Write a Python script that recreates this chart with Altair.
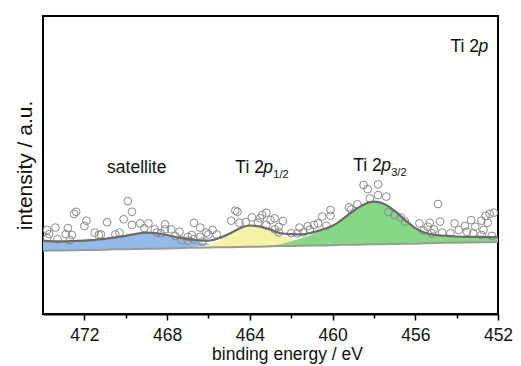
import altair as alt
import pandas as pd

# ---- data ----
energy = [474, 473.5, 473, 472.5, 472, 471.5, 471, 470.5, 470, 469.5, 469, 468.5, 468, 467.5,
          467, 466.5, 466, 465.5, 465, 464.5, 464, 463.5, 463, 462.5, 462, 461.5, 461, 460.5,
          460, 459.5, 459, 458.5, 458, 457.5, 457, 456.5, 456, 455.5, 455, 454.5, 454, 453.5,
          453, 452.5, 452]
background = [21.2, 21.3, 21.3, 21.4, 21.5, 21.5, 21.6, 21.7, 21.7, 21.8, 21.9, 21.9, 22.0, 22.1,
              22.2, 22.2, 22.3, 22.4, 22.4, 22.5, 22.6, 22.6, 22.7, 22.8, 22.8, 22.9, 23.0, 23.0,
              23.1, 23.2, 23.2, 23.3, 23.4, 23.4, 23.5, 23.6, 23.6, 23.7, 23.8, 23.9, 23.9, 24.0,
              24.1, 24.1, 24.2]
satellite = [3.4, 3.1, 3.1, 3.1, 3.1, 3.4, 3.6, 4.0, 4.5, 5.1, 5.4, 5.2, 4.5, 3.6,
             2.8, 2.0, 1.3, 0.8, 0.4, 0.2, 0.1, 0, 0, 0, 0, 0, 0, 0,
             0, 0, 0, 0, 0, 0, 0, 0, 0, 0, 0, 0, 0, 0, 0, 0, 0]
p12 = [0, 0, 0, 0, 0, 0, 0, 0, 0, 0, 0, 0, 0, 0,
       0.1, 0.5, 1.0, 2.2, 4.1, 6.0, 7.0, 6.6, 5.3, 3.7, 2.4, 1.3, 0.6, 0.3,
       0.1, 0, 0, 0, 0, 0, 0, 0, 0, 0, 0, 0, 0, 0, 0, 0, 0]
p32 = [0, 0, 0, 0, 0, 0, 0, 0, 0, 0, 0, 0, 0, 0,
       0, 0, 0, 0, 0, 0, 0, 0.1, 0.3, 0.6, 1.6, 2.5, 3.7, 5.0,
       6.4, 8.7, 11.4, 13.4, 14.3, 13.5, 11.1, 8.0, 5.2, 3.5, 2.7, 2.3, 2.1, 1.9,
       1.8, 1.7, 1.6]

pts_energy = [469.9, 472.4, 472.5, 469.7, 471.9, 472.0, 470.9, 470.1, 469.7, 469.3, 468.9, 469.1,
              468.6, 473.8, 473.4, 472.8, 473.7, 472.9, 472.6, 471.5, 471.2, 470.5, 470.3, 468.5,
              473.8, 473.3, 472.7, 471.3,
              464.7, 464.6, 463.2, 463.4, 463.9, 466.7, 466.4, 464.9, 464.5, 464.2, 463.5, 463.0,
              468.1, 468.1, 467.8, 467.4, 466.1, 465.8, 465.6, 468.3, 467.6, 467.0, 466.8, 466.4,
              466.0, 467.3, 467.0, 466.7, 466.3, 463.2, 463.6,
              458.5, 458.3, 457.8, 459.2, 459.1, 458.8, 458.2, 457.8, 457.4, 460.1, 460.1, 460.5,
              460.7, 460.9, 460.3, 461.2, 461.6, 462.4, 462.6, 462.8, 461.4, 461.7, 462.0, 462.8,
              462.6, 461.1,
              454.9, 457.0, 456.7, 456.5, 455.8, 455.3, 454.8, 454.1, 453.6, 453.3, 452.8, 452.6,
              452.4, 452.2, 452.5, 455.4, 455.1, 454.7, 454.3, 453.9, 453.5, 453.1, 452.7, 455.6,
              455.2, 453.2, 452.8, 452.3, 457.3]
pts_intensity = [37.9, 34.3, 33.6, 34.3, 31.3, 29.5, 30.8, 31.8, 29.9, 30.4, 30.4, 28.8,
                 28.4, 28.2, 29.0, 28.8, 26.8, 26.8, 26.5, 27.3, 26.7, 26.7, 27.3, 27.3,
                 25.4, 25.1, 24.8, 26.5,
                 34.7, 34.3, 34.0, 33.2, 32.4, 30.6, 29.0, 31.3, 30.6, 30.8, 32.1, 31.5,
                 30.1, 28.4, 28.4, 27.6, 27.3, 28.2, 26.7, 27.1, 26.2, 25.9, 26.5, 25.9,
                 26.7, 24.8, 24.6, 25.1, 24.3, 29.9, 30.6,
                 43.3, 41.9, 43.5, 35.8, 35.1, 36.8, 38.8, 39.9, 39.4, 34.9, 33.0, 32.7,
                 30.4, 29.9, 29.6, 29.5, 29.0, 31.2, 29.3, 32.1, 27.4, 27.1, 27.1, 28.4,
                 27.4, 28.2,
                 36.9, 33.2, 32.4, 31.0, 30.4, 30.6, 31.0, 30.4, 29.5, 31.5, 31.3, 32.9,
                 33.6, 34.0, 30.6, 29.3, 28.4, 27.3, 27.1, 28.2, 27.6, 29.3, 28.2, 28.0,
                 27.1, 27.1, 26.5, 26.2, 34.2]

FONT = "Liberation Sans, Arial, sans-serif"

df = pd.DataFrame({"E": energy, "base": background, "S": satellite, "Y": p12, "G": p32})
df["sat_top"] = df["base"] + df["S"]
df["y_top"] = df["base"] + df["Y"]
df["g_top"] = df["base"] + df["G"]
df["env"] = df["base"] + df["S"] + df["Y"] + df["G"]

pts = pd.DataFrame({"E": pts_energy, "I": pts_intensity})

xs = alt.Scale(domain=[452, 474], reverse=True, nice=False, zero=False)
ys = alt.Scale(domain=[0, 100], nice=False, zero=False)

x_enc = alt.X("E:Q", scale=xs, title="binding energy / eV",
              axis=alt.Axis(values=[472, 470, 468, 466, 464, 462, 460, 458, 456, 454, 452],
                            labelExpr="datum.value % 4 == 0 ? datum.label : ''",
                            tickSize={"condition": {"test": "datum.value % 4 == 0", "value": 6}, "value": 4},
                            tickColor="black", tickWidth=1.5, domainColor="black", domainWidth=2,
                            labelFont=FONT, labelFontSize=17.5, labelColor="#111", labelPadding=6,
                            titleFont=FONT, titleFontSize=17.5, titleFontWeight="normal",
                            titleColor="#111", titlePadding=2, titleX=244, titleAnchor="middle",
                            grid=False, labelFlush=False))
y_title_axis = alt.Axis(labels=False, ticks=False, domain=False, grid=False,
                        titleFont=FONT, titleFontSize=21, titleFontWeight="normal",
                        titleColor="#111", titlePadding=8)
y_enc = lambda f: alt.Y(f, scale=ys, title="intensity / a.u.", axis=y_title_axis)

sat_df = df[(df["E"] >= 464)]
y_df = df[(df["E"] <= 467) & (df["E"] >= 460)]
g_df = df[(df["E"] <= 463.5)]


def area(d, col, color):
    return alt.Chart(d).mark_area(color=color, interpolate="monotone").encode(
        x=x_enc, y=y_enc("base:Q"), y2=alt.Y2(col + ":Q"))


a_sat = area(sat_df, "sat_top", "#93bae9")
a_y = area(y_df, "y_top", "#f6f2a6")
a_g = area(g_df, "g_top", "#86d886")

bg_line = alt.Chart(df).mark_line(color="#9a9a9a", strokeWidth=2).encode(
    x=x_enc, y=y_enc("base:Q"))

points = alt.Chart(pts).mark_point(shape="circle", filled=False, color="#8a8a8a",
                                   strokeWidth=1, size=60, opacity=1).encode(
    x=x_enc, y=y_enc("I:Q"))

env_line = alt.Chart(df).mark_line(color="#6a6a6a", strokeWidth=2.2, interpolate="monotone").encode(
    x=x_enc, y=y_enc("env:Q"))

# annotations (anchored at data coordinates)
lab_main = pd.DataFrame({"E": [454.3, 470.9, 464.7, 459.0],
                         "I": [88.0, 47.2, 47.2, 48.1],
                         "t": ["Ti 2", "satellite", "Ti 2", "Ti 2"]})
lab_p = pd.DataFrame({"E": [454.3, 464.7, 459.0], "I": [88.0, 47.2, 48.1], "t": ["p", "p", "p"]})
lab_sub = pd.DataFrame({"E": [464.7, 459.0], "I": [47.2, 48.1], "t": ["1/2", "3/2"]})

t_main = alt.Chart(lab_main).mark_text(font=FONT, fontSize=17.5, align="left", baseline="alphabetic",
                                       color="#111").encode(
    x=alt.X("E:Q", scale=xs), y=alt.Y("I:Q", scale=ys), text="t:N")
t_p = alt.Chart(lab_p).mark_text(font=FONT, fontSize=17.5, fontStyle="italic", align="left",
                                 baseline="alphabetic", dx=28, color="#111").encode(
    x=alt.X("E:Q", scale=xs), y=alt.Y("I:Q", scale=ys), text="t:N")
t_sub = alt.Chart(lab_sub).mark_text(font=FONT, fontSize=11, align="left",
                                     baseline="alphabetic", dx=38, dy=5, color="#111").encode(
    x=alt.X("E:Q", scale=xs), y=alt.Y("I:Q", scale=ys), text="t:N")

chart = alt.layer(a_sat, a_y, a_g, bg_line, points, env_line, t_main, t_p, t_sub).properties(
    width=455, height=298,
    autosize=alt.AutoSizeParams(type="none"),
    padding={"left": 35, "top": 8, "right": 15, "bottom": 52},
).configure(background="white").configure_view(stroke="black", strokeWidth=2)

chart.save("out.html", embed_options={"renderer": "svg", "actions": False})
